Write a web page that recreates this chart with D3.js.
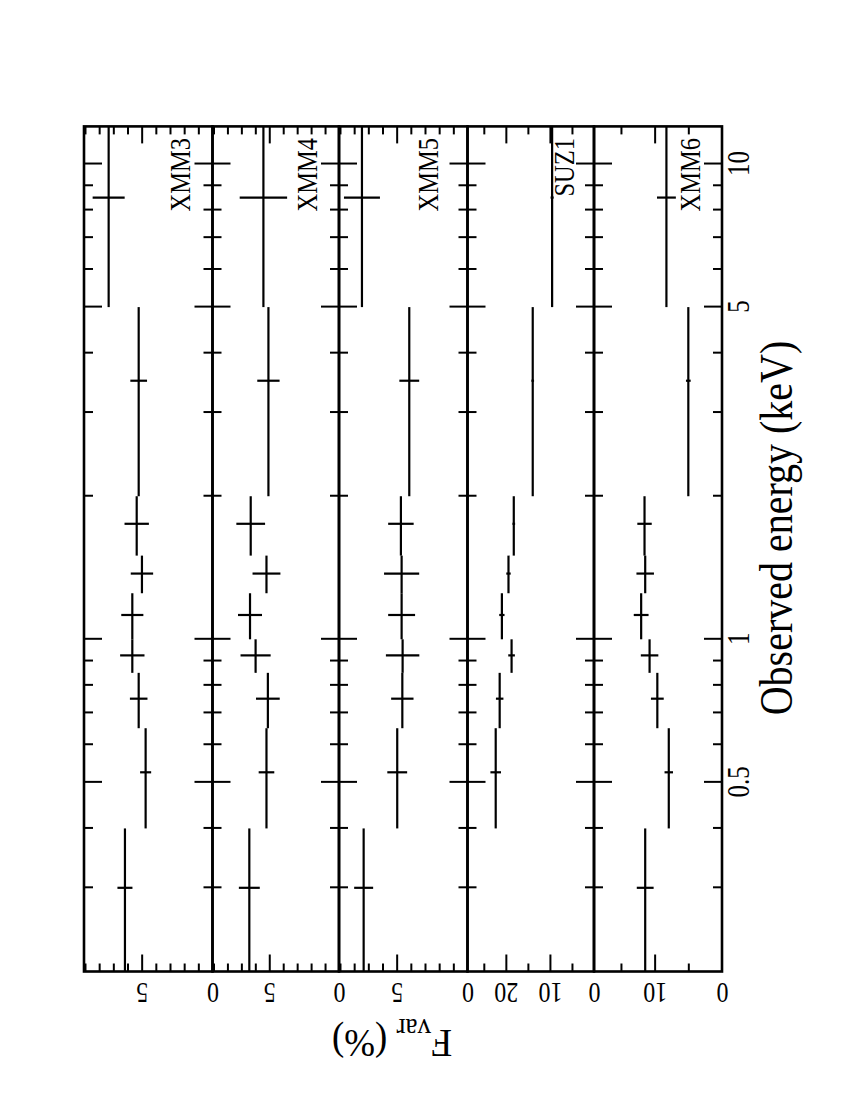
<!DOCTYPE html>
<html><head><meta charset="utf-8">
<script src="https://cdn.jsdelivr.net/npm/d3@7/dist/d3.min.js"></script>
<style>body{margin:0;background:#fff}svg{display:block}</style>
</head><body>
<svg id="c" width="850" height="1100"></svg>
<script>
// ---------- data ----------
const energyLo  = [0.2, 0.4, 0.65, 0.85, 1.0, 1.25, 1.5, 2, 5];
const energyHi  = [0.4, 0.65, 0.85, 1.0, 1.25, 1.5, 2, 5, 12];
const energyMid = [0.3, 0.525, 0.75, 0.925, 1.125, 1.375, 1.75, 3.5, 8.5];

const panelNames = ["XMM3", "XMM4", "XMM5", "SUZ1", "XMM6"];

const fvarXMM3 = [6.18, 4.72, 5.21, 5.66, 5.66, 4.98, 5.35, 5.21, 7.33];
const errXMM3  = [0.53, 0.39, 0.62, 0.86, 0.78, 0.79, 0.86, 0.59, 1.13];
const fvarXMM4 = [6.43, 5.20, 5.10, 5.98, 6.38, 5.20, 6.33, 5.06, 5.42];
const errXMM4  = [0.75, 0.56, 0.85, 1.08, 0.86, 1.00, 1.03, 0.80, 1.70];
const fvarXMM5 = [7.33, 4.96, 4.60, 4.58, 4.65, 4.65, 4.70, 4.11, 7.45];
const errXMM5  = [0.67, 0.70, 0.79, 1.18, 0.95, 1.24, 0.90, 0.70, 1.27];
const fvarSUZ1 = [null, 22.3, 21.4, 18.7, 20.9, 19.4, 18.2, 13.9, 9.5];
const errSUZ1  = [null, 1.2, 0.85, 0.75, 0.6, 0.5, 0.3, 0.3, 0.35];
const fvarXMM6 = [11.4, 7.9, 9.6, 10.75, 12.0, 11.4, 11.5, 5.0, 8.25];
const errXMM6  = [1.25, 0.63, 0.95, 1.30, 1.10, 1.30, 1.07, 0.35, 1.40];

const seriesValues = [fvarXMM3, fvarXMM4, fvarXMM5, fvarSUZ1, fvarXMM6];
const seriesErrors = [errXMM3, errXMM4, errXMM5, errSUZ1, errXMM6];

const fvarMax        = [9.07, 9.07, 9.07, 28.7, 19.0];
const fvarTickLabels = [[0, 5], [0, 5], [0, 5], [0, 10, 20], [0, 10]];
const fvarMajorTicks = [[5], [5], [5], [10, 20], [10]];
const fvarMinorTicks = [[1,2,3,4,6,7,8,9], [1,2,3,4,6,7,8,9], [1,2,3,4,6,7,8,9], [5, 15, 25], [5, 15]];

const energyTickLabels = [0.5, 1, 5, 10];
const energyMinorTicks = [0.3, 0.4, 0.6, 0.7, 0.8, 0.9, 2, 3, 4, 6, 7, 8, 9];

// ---------- layout (chart is drawn upright, then rotated -90deg) ----------
const FONT = "'Liberation Serif','Times New Roman',Times,serif";
const svg = d3.select("#c");
const g = svg.append("g").attr("transform", "translate(0,1100) rotate(-90)");

const X0 = 1100 - 971.5, X1 = 1100 - 126.4;
const x = d3.scaleLog().domain([0.2, 12]).range([X0, X1]);
const edges = [84, 212.5, 339, 467.5, 594, 722];
const labelOffset = [22.5, 22, 29.5, 20, 22];

const MAJ = 18, MIN = 9;

function styleAxis(sel) {
  sel.select(".domain").remove();
  sel.selectAll(".tick line").attr("stroke", "#000").attr("stroke-width", 2);
}

panelNames.forEach((name, i) => {
  const top = edges[i], bot = edges[i + 1];
  const y = d3.scaleLinear().domain([0, fvarMax[i]]).range([bot, top]);
  const p = g.append("g");

  [[energyTickLabels, MAJ], [energyMinorTicks, MIN]].forEach(([vals, len]) => {
    p.append("g").attr("transform", `translate(0,${bot})`)
      .call(d3.axisBottom(x).tickValues(vals).tickSize(-len).tickSizeOuter(0).tickFormat(""))
      .call(styleAxis);
    p.append("g").attr("transform", `translate(0,${top})`)
      .call(d3.axisTop(x).tickValues(vals).tickSize(-len).tickSizeOuter(0).tickFormat(""))
      .call(styleAxis);
  });

  [[fvarMajorTicks[i], MAJ - 1], [fvarMinorTicks[i], MIN - 1]].forEach(([vals, len]) => {
    p.append("g").attr("transform", `translate(${X0},0)`)
      .call(d3.axisLeft(y).tickValues(vals).tickSize(-len).tickSizeOuter(0).tickFormat(""))
      .call(styleAxis);
    p.append("g").attr("transform", `translate(${X1},0)`)
      .call(d3.axisRight(y).tickValues(vals).tickSize(-len).tickSizeOuter(0).tickFormat(""))
      .call(styleAxis);
  });

  const lab = p.append("g").attr("transform", `translate(${X0},0)`)
    .call(d3.axisLeft(y).tickValues(fvarTickLabels[i]).tickSize(0).tickFormat(d3.format("d")));
  lab.select(".domain").remove();
  lab.selectAll(".tick line").remove();
  lab.selectAll(".tick text")
    .attr("x", null).attr("dy", null)
    .attr("text-anchor", "middle")
    .attr("transform", "translate(-11.5,0) rotate(-90) scale(1,1.25)")
    .attr("fill", "#000")
    .style("font-family", FONT).style("font-size", "24px");

  const vals = seriesValues[i], errs = seriesErrors[i];
  const pts = vals.map((v, k) => ({v, e: errs[k], lo: energyLo[k], hi: energyHi[k], mid: energyMid[k]}))
                  .filter(d => d.v !== null);
  p.append("g").selectAll("line").data(pts).join("line")
    .attr("x1", d => x(d.lo)).attr("x2", d => x(d.hi))
    .attr("y1", d => y(d.v)).attr("y2", d => y(d.v))
    .attr("stroke", "#000").attr("stroke-width", 2.2);
  p.append("g").selectAll("line").data(pts).join("line")
    .attr("x1", d => x(d.mid)).attr("x2", d => x(d.mid))
    .attr("y1", d => y(d.v - d.e)).attr("y2", d => y(d.v + d.e))
    .attr("stroke", "#000").attr("stroke-width", 2.2);

  p.append("rect").attr("x", X0).attr("y", top).attr("width", X1 - X0).attr("height", bot - top)
    .attr("fill", "none").attr("stroke", "#000").attr("stroke-width", 2.6);

  p.append("text")
    .attr("transform", `translate(${1100 - 138},${bot - labelOffset[i]}) scale(1,1.2)`)
    .attr("text-anchor", "end").style("font-family", FONT).style("font-size", "24.5px")
    .text(name);
});

const ex = g.append("g").attr("transform", `translate(0,${edges[5]})`)
  .call(d3.axisBottom(x).tickValues(energyTickLabels).tickSize(0).tickFormat(d3.format("")));
ex.select(".domain").remove();
ex.selectAll(".tick text").attr("y", null).attr("dy", null)
  .attr("transform", "translate(0,27) scale(1,1.3)").attr("fill", "#000")
  .style("font-family", FONT).style("font-size", "25px");

g.append("text").attr("transform", `translate(${1100 - 528},792) scale(1,1.15)`)
  .attr("text-anchor", "middle")
  .style("font-family", FONT).style("font-size", "40px").text("Observed energy (keV)");

const yt = g.append("text").attr("transform", "translate(70,392) rotate(-90) scale(1,1.08)")
  .attr("text-anchor", "middle").style("font-family", FONT);
yt.append("tspan").style("font-size", "38px").text("F");
yt.append("tspan").style("font-size", "27px").attr("dy", 10).text("var");
yt.append("tspan").style("font-size", "37px").attr("dy", -10).text(" (%)");
</script>
</body></html>
